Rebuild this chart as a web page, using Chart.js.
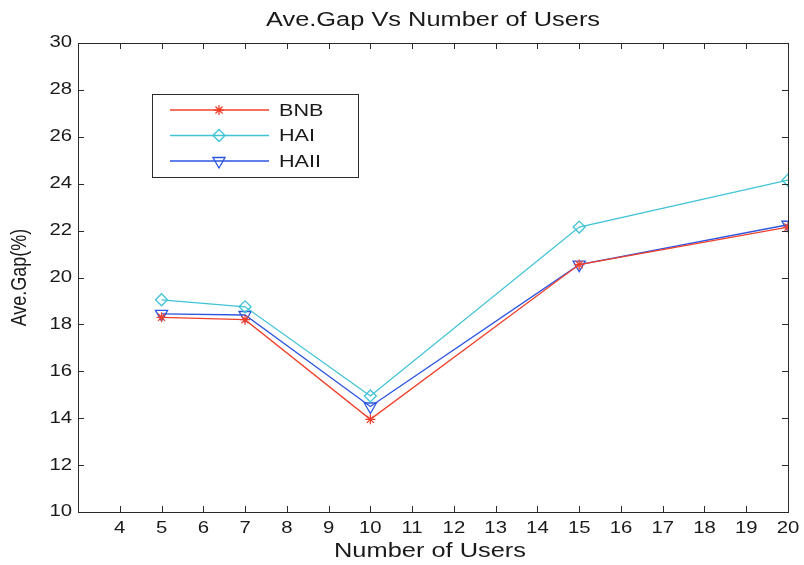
<!DOCTYPE html>
<html>
<head>
<meta charset="utf-8">
<script src="https://cdn.jsdelivr.net/npm/chart.js@4/dist/chart.umd.min.js"></script>
<style>
  html, body { margin: 0; padding: 0; background: #fff; }
  #wrap { width: 804px; height: 565px; }
</style>
</head>
<body>
<div id="wrap"><canvas id="chart"></canvas></div>
<script>
const users = [5, 7, 10, 15, 20];
const bnb = [18.3, 18.2, 13.95, 20.55, 22.15];
const hai = [19.05, 18.75, 14.95, 22.15, 24.15];
const haii = [18.45, 18.4, 14.5, 20.55, 22.25];
const xTicks = [3, 20];
const yTicks = [10, 30];
const titleText = 'Ave.Gap Vs Number of Users';
const xTitle = 'Number of Users';
const yTitle = 'Ave.Gap(%)';

const FONT = '"Liberation Sans", Arial, Helvetica, sans-serif';
const AXIS = '#2b2b2b';
const TEXT = '#1a1a1a';
const STRETCH = 1.27; // the scan is wider than tall

const toPoints = vals => vals.map((v, i) => ({ x: users[i], y: v }));

function wideText(ctx, str, x, y, size, align, rot) {
  ctx.save();
  ctx.translate(x, y);
  ctx.scale(STRETCH, 1);
  if (rot) ctx.rotate(rot);
  ctx.font = size + 'px ' + FONT;
  ctx.textAlign = align;
  ctx.textBaseline = 'middle';
  ctx.fillStyle = TEXT;
  ctx.fillText(str, 0, 0);
  ctx.restore();
}

// matlab style box with inward ticks and labels
const boxPlugin = {
  id: 'box',
  afterDraw(chart) {
    const { ctx, chartArea: a, scales } = chart;
    ctx.save();
    ctx.strokeStyle = AXIS;
    ctx.lineWidth = 1;
    ctx.strokeRect(a.left + 0.5, a.top + 0.5, a.right - a.left, a.bottom - a.top);
    ctx.beginPath();
    scales.x.ticks.forEach(t => {
      const px = Math.round(scales.x.getPixelForValue(t.value)) + 0.5;
      ctx.moveTo(px, a.bottom); ctx.lineTo(px, a.bottom - 6);
      ctx.moveTo(px, a.top); ctx.lineTo(px, a.top + 6);
    });
    scales.y.ticks.forEach(t => {
      const py = Math.round(scales.y.getPixelForValue(t.value)) + 0.5;
      ctx.moveTo(a.left, py); ctx.lineTo(a.left + 6, py);
      ctx.moveTo(a.right, py); ctx.lineTo(a.right - 6, py);
    });
    ctx.stroke();
    ctx.restore();

    scales.x.ticks.forEach(t => {
      if (t.value === xTicks[0]) return;
      wideText(ctx, String(t.value), scales.x.getPixelForValue(t.value), a.bottom + 17, 16, 'center');
    });
    scales.y.ticks.forEach(t => {
      wideText(ctx, String(t.value), a.left - 6, scales.y.getPixelForValue(t.value), 16, 'right');
    });
    const cx = (a.left + a.right) / 2;
    wideText(ctx, titleText, cx, 20, 20, 'center');
    wideText(ctx, xTitle, 430, 551, 20, 'center');
    wideText(ctx, yTitle, 20, (a.top + a.bottom) / 2, 18, 'center', -Math.PI / 2);
  }
};

// legend box inside the plot, upper left
const legendBox = {
  id: 'legendBox',
  afterDraw(chart) {
    const ctx = chart.ctx;
    const x0 = 152, y0 = 94, w = 206, h = 83;
    ctx.save();
    ctx.fillStyle = '#fff';
    ctx.fillRect(x0, y0, w, h);
    ctx.strokeStyle = AXIS;
    ctx.lineWidth = 1;
    ctx.strokeRect(x0 + 0.5, y0 + 0.5, w, h);
    chart.data.datasets.forEach((ds, i) => {
      const y = y0 + 16 + i * 25.5;
      ctx.strokeStyle = ds.borderColor;
      ctx.lineWidth = 1.3;
      ctx.beginPath();
      ctx.moveTo(x0 + 18, y); ctx.lineTo(x0 + 117, y);
      ctx.stroke();
      ctx.fillStyle = 'rgba(0,0,0,0)';
      ctx.strokeStyle = ds.pointBorderColor;
      Chart.helpers.drawPoint(ctx, {
        pointStyle: ds.pointStyle,
        radius: ds.pointRadius,
        rotation: ds.pointRotation || 0,
        borderWidth: 1.3
      }, x0 + 67, y);
      wideText(ctx, ds.label, x0 + 127, y + 1, 17, 'left');
    });
    ctx.restore();
  }
};

const common = {
  fill: false,
  tension: 0,
  borderWidth: 1.3,
  pointBackgroundColor: 'rgba(0,0,0,0)',
  pointBorderWidth: 1.3
};

new Chart(document.getElementById('chart'), {
  type: 'line',
  data: {
    datasets: [
      Object.assign({}, common, {
        label: 'BNB', data: toPoints(bnb),
        borderColor: '#f0402c', pointBorderColor: '#f0402c',
        pointStyle: 'star', pointRadius: 5
      }),
      Object.assign({}, common, {
        label: 'HAI', data: toPoints(hai),
        borderColor: '#3fc3d6', pointBorderColor: '#3fc3d6',
        pointStyle: 'rectRot', pointRadius: 6
      }),
      Object.assign({}, common, {
        label: 'HAII', data: toPoints(haii),
        borderColor: '#2d55e0', pointBorderColor: '#2d55e0',
        pointStyle: 'triangle', pointRadius: 7, pointRotation: 180
      })
    ]
  },
  options: {
    responsive: true,
    maintainAspectRatio: false,
    animation: false,
    layout: { padding: { left: 0, right: 16, top: 43, bottom: 0 } },
    plugins: {
      legend: { display: false },
      tooltip: { enabled: false },
      title: { display: false }
    },
    scales: {
      x: {
        type: 'linear',
        min: xTicks[0], max: xTicks[1],
        grid: { display: false, drawTicks: false },
        border: { display: false },
        ticks: { stepSize: 1, display: false, autoSkip: false },
        afterFit: s => { s.height = 53; }
      },
      y: {
        min: yTicks[0], max: yTicks[1],
        grid: { display: false, drawTicks: false },
        border: { display: false },
        ticks: { stepSize: 2, display: false },
        afterFit: s => { s.width = 78; }
      }
    }
  },
  plugins: [boxPlugin, legendBox]
});
</script>
</body>
</html>
